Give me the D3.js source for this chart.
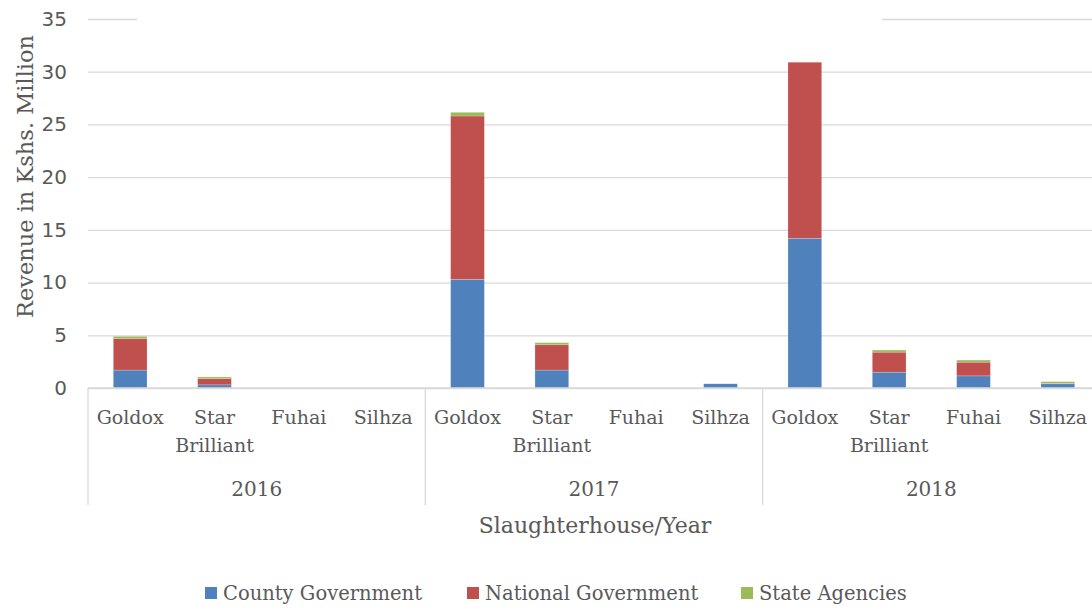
<!DOCTYPE html>
<html><head><meta charset="utf-8">
<script src="https://cdn.jsdelivr.net/npm/d3@7"></script>
<style>body{margin:0;background:#fff}</style>
</head><body><svg id="c" width="1092" height="610"></svg>
<script>
const years = ["2016","2017","2018"];
const houses = ["Goldox","Star Brilliant","Fuhai","Silhza"];
const seriesNames = ["County Government","National Government","State Agencies"];
const county   = [1.7, 0.3, 0, 0,   10.3, 1.7, 0, 0.4,   14.2, 1.5, 1.15, 0.4];
const national = [3.0, 0.6, 0, 0,   15.5, 2.4, 0, 0,     16.7, 1.9, 1.3, 0.05];
const state    = [0.2, 0.15, 0, 0,  0.35, 0.2, 0, 0,     0,    0.2, 0.2, 0.15];
const yTicks = [0,5,10,15,20,25,30,35];
const colors = ["#4f81bd","#c0504d","#9bbb59"];

(function(){
const svg = d3.select("#c");
const textColor = "#595959";
const gridColor = "#d9d9d9";
const pLeft = 88, pRight = 1100, pTop = 19, pBottom = 388;

const cats = [];
years.forEach(y => houses.forEach(h => cats.push({year:y, house:h})));
const rows = cats.map((c,i) => ({key:i, year:c.year, house:c.house,
  "County Government":county[i], "National Government":national[i], "State Agencies":state[i]}));

const x = d3.scaleBand().domain(d3.range(cats.length)).range([pLeft,pRight]).paddingInner(0.6).paddingOuter(0.3);
const y = d3.scaleLinear().domain([0,35]).range([pBottom, pTop]);

const yAxis = d3.axisLeft(y).tickValues(yTicks).tickSize(-(1092-pLeft)).tickPadding(21);
const ga = svg.append("g").attr("transform",`translate(${pLeft},0)`).call(yAxis);
ga.select(".domain").remove();
ga.selectAll(".tick line").attr("stroke",gridColor).attr("stroke-width",1.3);
ga.selectAll(".tick text").attr("fill",textColor).attr("font-family","DejaVu Sans").attr("font-size",20);
svg.append("rect").attr("x",137).attr("y",pTop-5).attr("width",882-137).attr("height",10).attr("fill","#fff");

const stack = d3.stack().keys(seriesNames)(rows);
svg.append("g").selectAll("g").data(stack).join("g")
  .attr("fill",(d,i)=>colors[i])
  .selectAll("rect").data(d=>d).join("rect")
  .attr("x",d=>x(d.data.key)).attr("width",x.bandwidth())
  .attr("y",d=>y(d[1])).attr("height",d=>Math.max(0,y(d[0])-y(d[1])))
  .attr("stroke","#fff").attr("stroke-opacity",0.35).attr("stroke-width",0.6);

svg.append("line").attr("x1",pLeft).attr("x2",1092).attr("y1",pBottom).attr("y2",pBottom)
  .attr("stroke",gridColor).attr("stroke-width",1.3);
const groupBounds = [0,4,8,12].map(i => i<12 ? x(i) - x.step()*x.paddingOuter() : pRight);
svg.selectAll(".sep").data(groupBounds).join("line")
  .attr("x1",d=>d).attr("x2",d=>d).attr("y1",pBottom).attr("y2",505)
  .attr("stroke",gridColor).attr("stroke-width",1.3);

const catLabels = svg.append("g").attr("font-family","DejaVu Serif").attr("font-size",19)
  .attr("fill",textColor).attr("text-anchor","middle");
rows.forEach(r => {
  const cx = x(r.key) + x.bandwidth()/2;
  r.house.split(" ").forEach((w,j) => {
    catLabels.append("text").attr("x",cx).attr("y",424 + j*28).text(w);
  });
});
years.forEach((yr,k) => {
  const cx = (groupBounds[k]+groupBounds[k+1])/2;
  catLabels.append("text").attr("x",cx).attr("y",496).attr("font-size",20).text(yr);
});
svg.append("text").attr("x",595).attr("y",533).attr("text-anchor","middle")
  .attr("font-family","DejaVu Serif").attr("font-size",22).attr("fill",textColor).text("Slaughterhouse/Year");
svg.append("text").attr("transform","translate(33,176.5) rotate(-90)").attr("text-anchor","middle")
  .attr("font-family","DejaVu Serif").attr("font-size",22.5).attr("fill",textColor).text("Revenue in Kshs. Million");

const legX = [205, 467, 741];
const lg = svg.append("g");
seriesNames.forEach((s,i) => {
  lg.append("rect").attr("x",legX[i]).attr("y",587).attr("width",12).attr("height",12).attr("fill",colors[i]);
  lg.append("text").attr("x",legX[i]+18).attr("y",600).attr("font-family","DejaVu Serif").attr("font-size",19.5)
    .attr("fill",textColor).text(s);
});
})();
</script></body></html>
